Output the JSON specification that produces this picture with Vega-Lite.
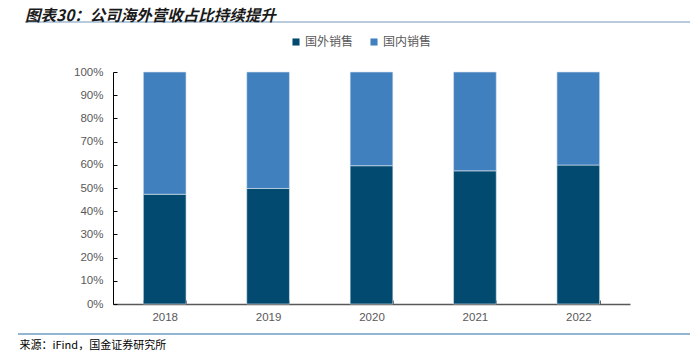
{
  "$schema": "https://vega.github.io/schema/vega-lite/v6.json",
  "autosize": "none",
  "width": 517,
  "height": 232,
  "padding": {"left": 113, "top": 72, "right": 60, "bottom": 57},
  "background": "white",
  "title": {
    "text": "图表30：公司海外营收占比持续提升",
    "anchor": "start",
    "frame": "group",
    "dx": -88,
    "font": "Noto Sans CJK SC",
    "fontSize": 15.5,
    "fontWeight": "bold",
    "fontStyle": "italic",
    "color": "#1a1a1a",
    "offset": -3
  },
  "config": {
    "view": {"stroke": null},
    "axis": {"labelFont": "Liberation Sans", "labelFontSize": 11.5, "labelColor": "#595959", "grid": false}
  },
  "layer": [
    {
      "data": {"values": [
        {"year": "2018", "type": "国外销售", "value": 0.473},
        {"year": "2018", "type": "国内销售", "value": 0.527},
        {"year": "2019", "type": "国外销售", "value": 0.498},
        {"year": "2019", "type": "国内销售", "value": 0.502},
        {"year": "2020", "type": "国外销售", "value": 0.596},
        {"year": "2020", "type": "国内销售", "value": 0.404},
        {"year": "2021", "type": "国外销售", "value": 0.574},
        {"year": "2021", "type": "国内销售", "value": 0.426},
        {"year": "2022", "type": "国外销售", "value": 0.599},
        {"year": "2022", "type": "国内销售", "value": 0.401}
      ]},
      "mark": {"type": "bar", "stroke": "#dbe6f0", "strokeWidth": 0.6},
      "encoding": {
        "x": {
          "field": "year", "type": "nominal",
          "scale": {"paddingInner": 0.587, "paddingOuter": 0.2935},
          "axis": {
            "labelAngle": 0, "labelPadding": 11,
            "domainColor": "#595959", "domainWidth": 1.3,
            "tickColor": "#595959", "tickSize": -4, "tickBand": "extent",
            "title": "来源：iFind，国金证券研究所",
            "titleFont": "Noto Sans CJK SC", "titleFontSize": 11, "titleFontWeight": "normal",
            "titleColor": "#000000", "titleAlign": "left", "titleBaseline": "top",
            "titleX": -94, "titleY": 35
          }
        },
        "y": {
          "field": "value", "type": "quantitative", "stack": "zero",
          "scale": {"domain": [0, 1]},
          "axis": {
            "format": ".0%", "values": [0, 0.1, 0.2, 0.3, 0.4, 0.5, 0.6, 0.7, 0.8, 0.9, 1],
            "title": null, "domainColor": "#000000", "tickColor": "#000000",
            "tickSize": -4, "labelPadding": 14
          }
        },
        "color": {
          "field": "type", "type": "nominal",
          "scale": {"domain": ["国外销售", "国内销售"], "range": ["#024a70", "#4080bf"]},
          "legend": {
            "orient": "none", "legendX": 177, "legendY": -36, "direction": "horizontal",
            "title": null, "symbolType": "square", "symbolSize": 50, "symbolStrokeWidth": 0,
            "labelFont": "Noto Sans CJK SC", "labelFontSize": 12, "labelColor": "#595959",
            "columnPadding": 14, "labelOffset": 3
          }
        },
        "order": {"field": "type", "sort": "descending"}
      }
    },
    {
      "data": {"values": [{"line": "title"}]},
      "mark": {"type": "rule", "stroke": "#9fbad0", "strokeWidth": 1.5},
      "encoding": {"x": {"value": -88}, "x2": {"value": 577}, "y": {"value": -50}}
    },
    {
      "data": {"values": [{"line": "footer"}]},
      "mark": {"type": "rule", "stroke": "#6e9cc2", "strokeWidth": 1.5},
      "encoding": {"x": {"value": -95}, "x2": {"value": 577}, "y": {"value": 262}}
    }
  ]
}
